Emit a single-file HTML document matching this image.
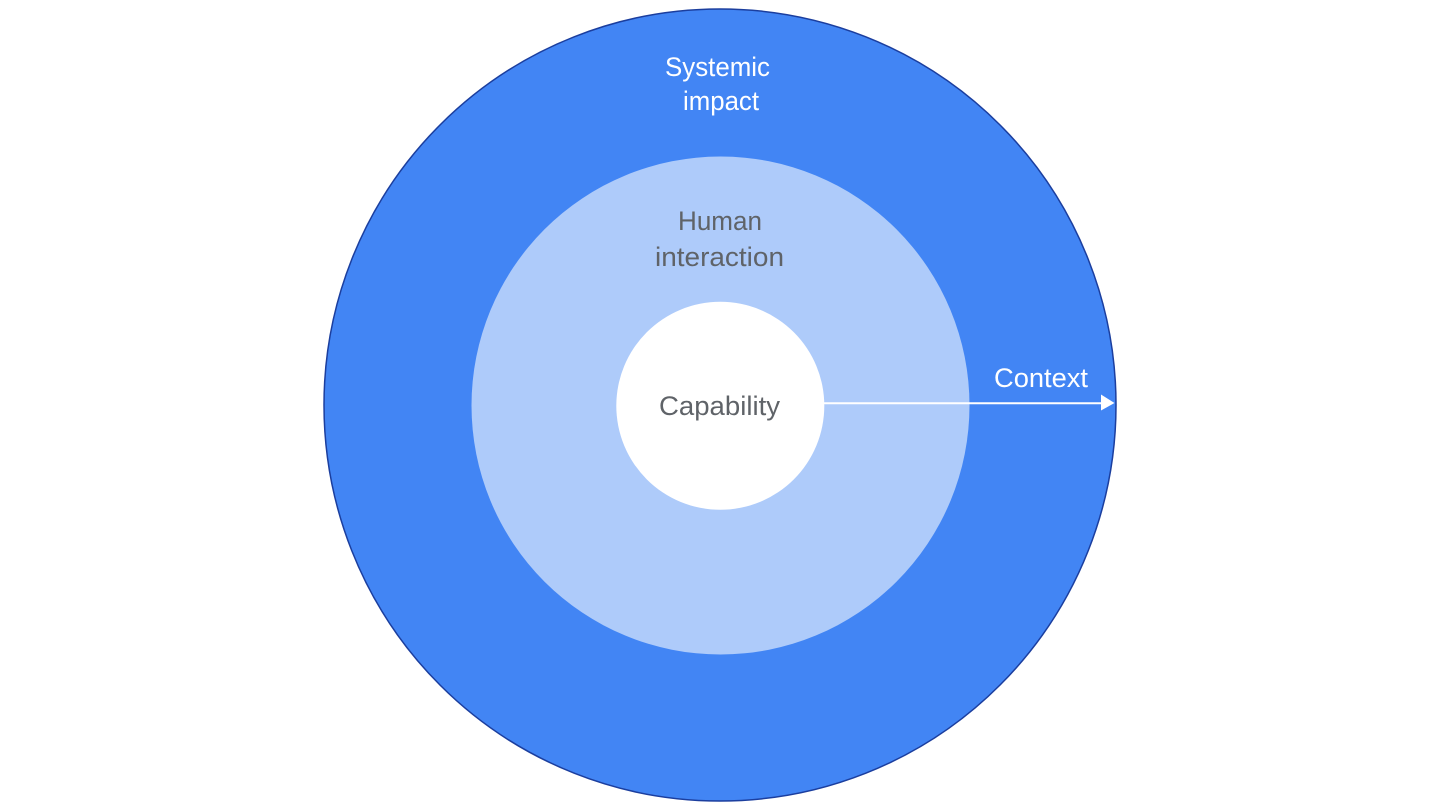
<!DOCTYPE html>
<html>
<head>
<meta charset="utf-8">
<style>
  html, body { margin: 0; padding: 0; background: #ffffff; }
  body { width: 1440px; height: 810px; overflow: hidden; }
  svg { display: block; }
  text { font-family: "Liberation Sans", Arial, sans-serif; font-size: 27px; }
</style>
</head>
<body>
<svg width="1440" height="810" viewBox="0 0 1440 810" xmlns="http://www.w3.org/2000/svg">
  <rect x="0" y="0" width="1440" height="810" fill="#ffffff"/>
  <!-- outer circle -->
  <circle cx="720" cy="405" r="396" fill="#4285F4" stroke="#1B3E9E" stroke-width="1.5"/>
  <!-- middle circle -->
  <circle cx="720.5" cy="405.5" r="249" fill="#AECBFA"/>
  <!-- inner circle -->
  <circle cx="720.3" cy="405.8" r="104" fill="#ffffff"/>

  <!-- arrow -->
  <line x1="824" y1="403.2" x2="1103" y2="403.2" stroke="#ffffff" stroke-width="2"/>
  <polygon points="1101,394.5 1114.5,403 1101,410.5" fill="#ffffff"/>

  <!-- labels -->
  <text x="665" y="76" fill="#ffffff" textLength="105" lengthAdjust="spacingAndGlyphs">Systemic</text>
  <text x="683" y="110" fill="#ffffff" textLength="76" lengthAdjust="spacingAndGlyphs">impact</text>

  <text x="678" y="230" fill="#5F6368" textLength="84" lengthAdjust="spacingAndGlyphs">Human</text>
  <text x="655" y="266" fill="#5F6368" textLength="129" lengthAdjust="spacingAndGlyphs">interaction</text>

  <text x="659" y="415" fill="#5F6368" textLength="121" lengthAdjust="spacingAndGlyphs">Capability</text>

  <text x="994" y="387" fill="#ffffff" textLength="94" lengthAdjust="spacingAndGlyphs">Context</text>
</svg>
</body>
</html>
